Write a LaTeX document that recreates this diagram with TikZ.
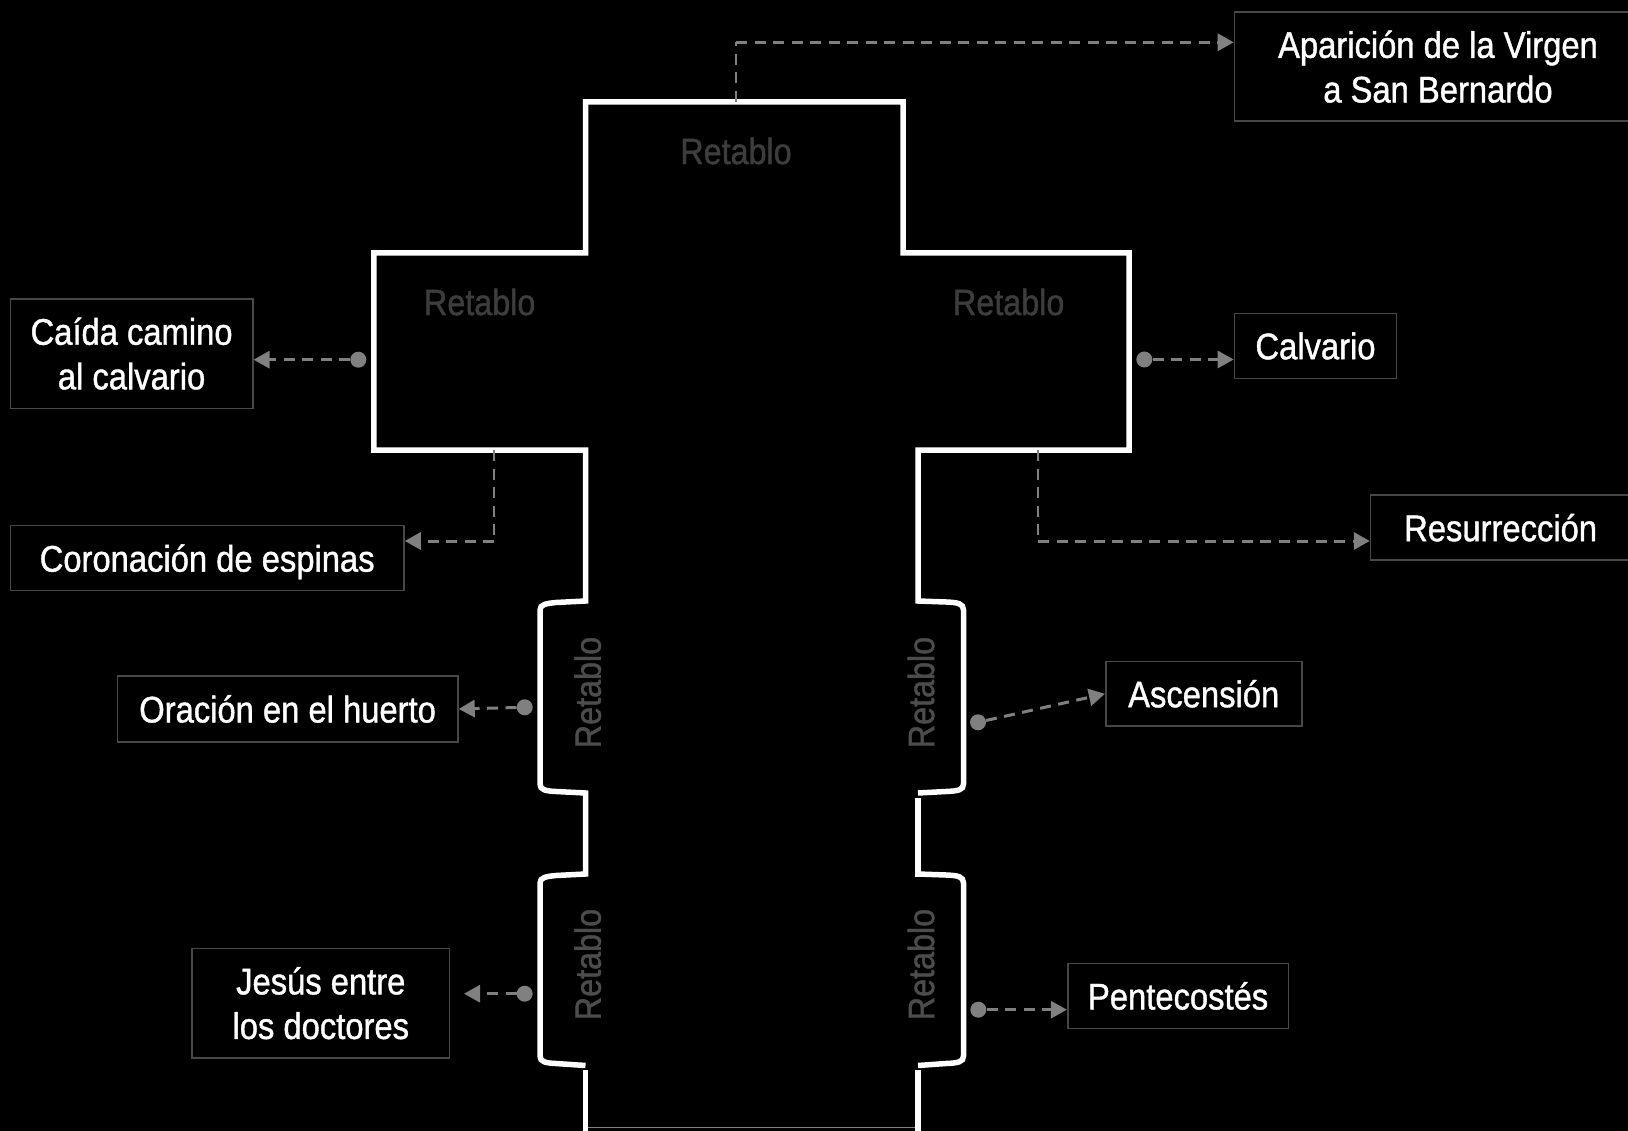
\documentclass[tikz,border=0pt]{standalone}
\usepackage{fontspec}
\setmainfont[FakeStretch=0.885,FakeBold=1.1]{Liberation Sans}
\usetikzlibrary{arrows.meta}
\tikzset{
  wall/.style={draw=white,line width=5.5pt,line join=miter},
  floorline/.style={draw=black!50,line width=1.3pt},
  infobox/.style={draw=black!72,line width=1.6pt,fill=black,text=white,inner sep=0pt,align=center,
    font=\fontsize{37}{44.6}\selectfont},
  retlabel/.style={text=black!76,inner sep=0pt,font=\fontsize{36.5}{40}\selectfont},
  retside/.style={text=black!70,inner sep=0pt,rotate=90,font=\fontsize{36.5}{40}\selectfont},
  dotmark/.style={circle,fill=black!50,inner sep=0pt,minimum size=16pt},
  link/.style={draw=black!50,line width=3pt,dash pattern=on 11pt off 7.5pt,
    -{Triangle[length=16pt,width=17pt,fill=black!50]}},
  linkv/.style={draw=black!50,line width=2pt,dash pattern=on 11pt off 7.5pt},
}
\begin{document}
\begin{tikzpicture}[x=1pt,y=-1pt]
\useasboundingbox (0,0) rectangle (1628,1131);
\fill[black] (0,0) rectangle (1628,1131);
% cross outline
\draw[floorline] (585.5,1127.3) -- (918,1127.3);
\draw[wall] (585.5,1132) -- (585.5,1070);
\draw[wall] (585.5,1065.5) -- (556,1063.5) .. controls (546,1063) and (540,1062) .. (540,1056)
  -- (540,883) .. controls (540,877.5) and (546,876.5) .. (556,875.5) -- (585.5,874)
  -- (585.5,793) -- (556,791.5) .. controls (546,791) and (540,790) .. (540,784)
  -- (540,610) .. controls (540,604.5) and (546,603.5) .. (556,602.5) -- (585.5,601)
  -- (585.5,450) -- (373.8,450) -- (373.8,253) -- (585.5,253) -- (585.5,102) -- (903,102)
  -- (903,253) -- (1129,253) -- (1129,450) -- (918,450) -- (918,601)
  -- (946,602) .. controls (958,602.5) and (963.5,603.5) .. (963.5,610)
  -- (963.5,784) .. controls (963.5,790) and (958,791) .. (946,791.5) -- (918,793);
\draw[wall] (918,798) -- (918,877);
\draw[wall] (918,874) -- (946,875) .. controls (958,875.5) and (963.5,876.5) .. (963.5,883)
  -- (963.5,1056) .. controls (963.5,1062) and (958,1063) .. (946,1063.5) -- (918,1065.5);
\draw[wall] (918,1070) -- (918,1132);
% part labels
\node[retlabel] (rt) at (736,151) {Retablo};
\node[retlabel] (rl) at (479.7,302) {Retablo};
\node[retlabel] (rr) at (1008.7,302) {Retablo};
\node[retside] (s1) at (587.7,692.5) {Retablo};
\node[retside] (s2) at (921,692.5) {Retablo};
\node[retside] (s3) at (587.7,964.5) {Retablo};
\node[retside] (s4) at (921,964.5) {Retablo};
% boxes
\node[infobox,minimum width=407pt,minimum height=109pt] (bA) at (1438,66.7) {Aparición de la Virgen\\a San Bernardo};
\node[infobox,minimum width=242.2pt,minimum height=109.7pt] (bC) at (131.6,353.6) {Caída camino\\al calvario};
\node[infobox,minimum width=162pt,minimum height=65pt] (bK) at (1315.5,346) {Calvario};
\node[infobox,minimum width=393.5pt,minimum height=64.7pt,text depth=0pt] (bE) at (207.2,558) {Coronación de espinas};
\node[infobox,minimum width=260pt,minimum height=65pt] (bR) at (1500.6,527.7) {Resurrección};
\node[infobox,minimum width=340.6pt,minimum height=66pt] (bO) at (287.6,709) {Oración en el huerto};
\node[infobox,minimum width=196pt,minimum height=64.6pt] (bS) at (1203.7,693.8) {Ascensión};
\node[infobox,minimum width=257.6pt,minimum height=109.7pt] (bJ) at (320.8,1003.2) {Jesús entre\\los doctores};
\node[infobox,minimum width=220.8pt,minimum height=64.7pt] (bP) at (1178.1,996) {Pentecostés};
% anchors and dots
\coordinate (aTop) at (736,102);
\coordinate (aTopBend) at (736,42.3);
\coordinate (aE) at (494,450);
\coordinate (aEBend) at (494,541);
\coordinate (aR) at (1038.3,450);
\coordinate (aRBend) at (1038.3,541);
\coordinate (aJ) at (464,993.7);
\node[dotmark] (dC) at (358.3,359.7) {};
\node[dotmark] (dK) at (1144.3,359.5) {};
\node[dotmark] (dO) at (524.7,707.3) {};
\node[dotmark] (dS) at (978,722.3) {};
\node[dotmark] (dJ) at (524.7,993.7) {};
\node[dotmark] (dP) at (978.3,1009.7) {};
% connectors
\draw[linkv] (aTop) -- (aTopBend);
\draw[link] (aTopBend) -- (aTopBend -| bA.west);
\draw[link] (dC) -- (dC -| bC.east);
\draw[link] (dK) -- (dK -| bK.west);
\draw[linkv] (aE) -- (aEBend);
\draw[link] (aEBend) -- (aEBend -| bE.east);
\draw[linkv] (aR) -- (aRBend);
\draw[link] (aRBend) -- (aRBend -| bR.west);
\draw[link] (dO) -- (bO.east);
\draw[link] (dS) -- (bS.west);
\draw[link] (dJ) -- (aJ);
\draw[link] (dP) -- (dP -| bP.west);
\end{tikzpicture}
\end{document}
